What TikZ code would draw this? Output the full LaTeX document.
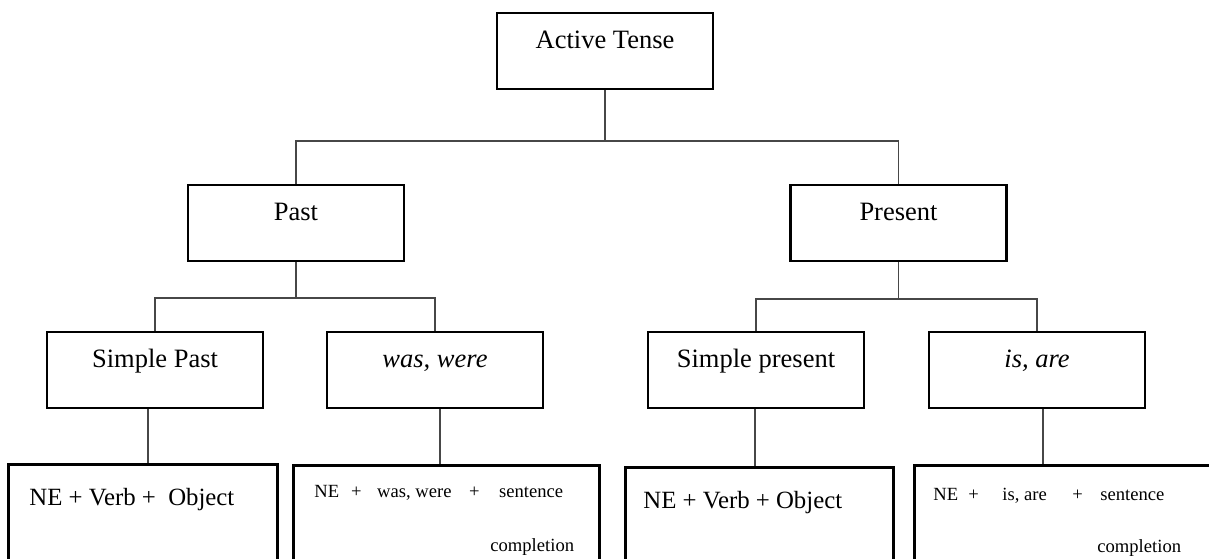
\documentclass[tikz,border=0pt]{standalone}
\usepackage{fontspec}
\setmainfont{Liberation Serif}
\begin{document}
\begin{tikzpicture}[x=0.5pt,y=-0.5pt,
  tbox/.style={draw=black, line width=1.4pt, rectangle, inner sep=0pt,
    minimum width=108pt, text height=17.5pt, text depth=20.5pt,
    font=\fontsize{13.25}{15}\selectfont},
  obox/.style={draw=black, line width=1.4pt, rectangle, inner sep=0pt,
    anchor=north west, minimum height=70pt},
  conn/.style={draw=black!72, line width=0.9pt},
  big/.style={font=\fontsize{12.4}{15}\selectfont, inner sep=0pt, anchor=base west},
  small/.style={font=\fontsize{9.3}{11}\selectfont, inner sep=0pt, anchor=base west}]
\useasboundingbox (0,0) rectangle (1209,558);
\clip (0,0) rectangle (1209,558);

% tense boxes
\node[tbox] (top) at (605,51) {Active Tense};
\node[tbox] (past) at (296,223) {Past};
\node[tbox] (present) at (898.5,223) {Present};
\node[tbox] (sp) at (155,370) {Simple Past};
\node[tbox] (was) at (435,370) {\itshape was, were};
\node[tbox] (spr) at (756,370) {Simple present};
\node[tbox] (isare) at (1037,370) {\itshape is, are};

% formula boxes
\node[obox, minimum width=134.5pt] (b1) at (7,463) {};
\node[obox, minimum width=153pt] (b2) at (292,464) {};
\node[obox, minimum width=134pt] (b3) at (624,466) {};
\node[obox, minimum width=160pt] (b4) at (913,464) {};

\node[big] (t1) at (29,505) {NE + Verb +\ \ Object};
\node[small] (t2) at (314,497) {NE\hspace{6pt}+\hspace{7.75pt}was, were\hspace{8.8pt}+\hspace{9.75pt}sentence};
\node[small] (t2b) at (490,551) {completion};
\node[big] (t3) at (643,508) {NE + Verb + Object};
\node[small] (t4) at (933,500) {NE\hspace{5.1pt}+\hspace{11.75pt}is, are\hspace{12.8pt}+\hspace{8.75pt}sentence};
\node[small] (t4b) at (1097,552) {completion};

% connectors
\coordinate (j0) at (606,141);
\draw[conn] (top.south) -- (top.south |- j0);
\draw[conn] (past.north) |- (j0) -| (present.north);

\coordinate (j1) at (298,298);
\draw[conn] (past.south) -- (past.south |- j1);
\draw[conn] (sp.north) |- (j1) -| (was.north);

\coordinate (j2) at (898,299);
\draw[conn] (present.south) -- (present.south |- j2);
\draw[conn] (spr.north) |- (j2) -| (isare.north);

\draw[conn] (sp.south -| 148,0) -- (b1.north -| 148,0);
\draw[conn] (was.south -| 440,0) -- (b2.north -| 440,0);
\draw[conn] (spr.south -| 755,0) -- (b3.north -| 755,0);
\draw[conn] (isare.south -| 1043,0) -- (b4.north -| 1043,0);
\end{tikzpicture}
\end{document}
